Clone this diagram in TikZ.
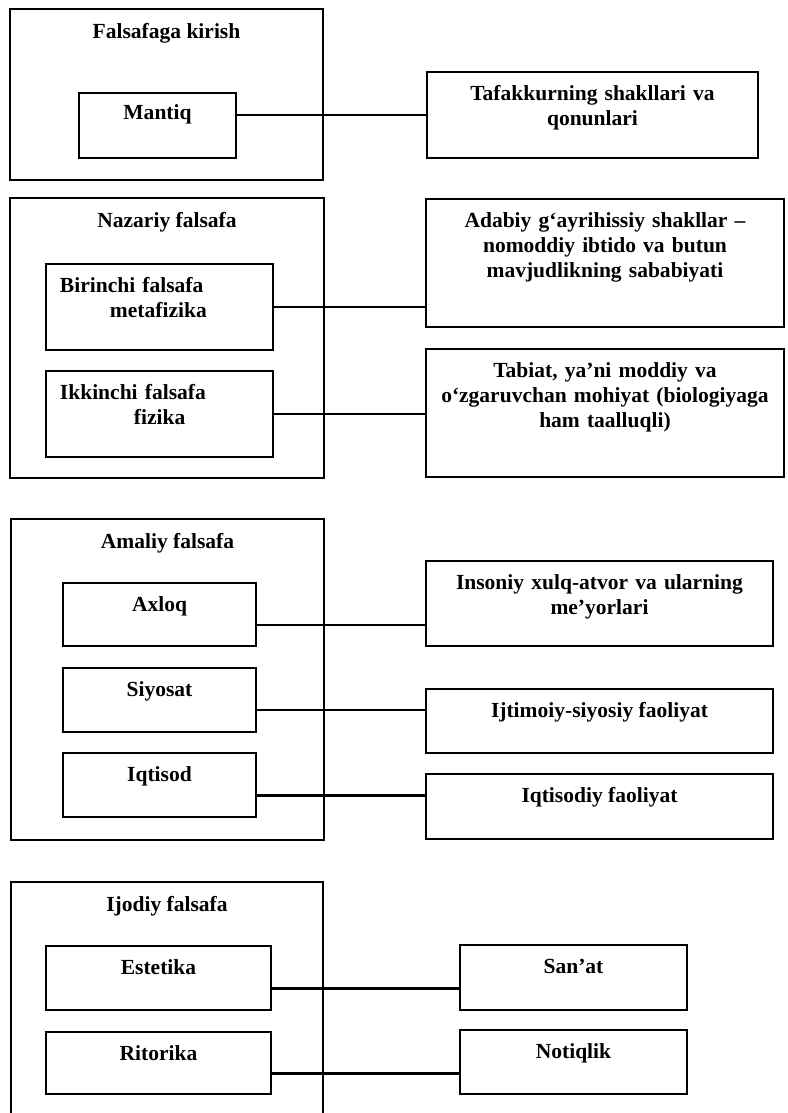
\documentclass[tikz,border=0pt]{standalone}
\usepackage{fontspec}
\setmainfont{Liberation Serif}

\begin{document}
\begin{tikzpicture}[x=0.025cm, y=-0.025cm,
  group/.style={draw, line width=1.5pt, inner sep=0pt},
  inbox/.style={draw, line width=1.1pt, inner sep=0pt},
  txt/.style={font=\fontsize{15.3}{17.8}\selectfont\bfseries, align=center, anchor=base, inner sep=0pt},
  lbl/.style={txt, yshift=-0.74cm},
  hd/.style={txt, yshift=-0.775cm},
  link/.style={line width=2pt}]

\clip (0,0) rectangle (788,1113);

% Falsafaga kirish
\node[group, minimum width=7.825cm, minimum height=4.275cm, label={[hd]north:Falsafaga kirish}] (kirish) at (166.5,94.5) {};
\node[inbox, minimum width=3.925cm, minimum height=1.625cm, label={[lbl, yshift=0.07cm]north:Mantiq}] (mantiq) at (157.5,125.5) {};
\node[inbox, minimum width=8.275cm, minimum height=2.15cm, label={[lbl, text width=8cm]north:{Tafakkurning shakllari va\\qonunlari}}] (tafakkur) at (592.5,115) {};
\draw[link] (mantiq.east |- tafakkur.west) -- (tafakkur.west);

% Nazariy falsafa
\node[group, minimum width=7.85cm, minimum height=7cm, label={[hd]north:Nazariy falsafa}] (nazariy) at (167,338) {};
\node[inbox, minimum width=5.675cm, minimum height=2.15cm, label={[lbl, align=left, text width=4.975cm]north:{Birinchi falsafa\\\hspace*{1.25cm}metafizika}}] (birinchi) at (159.5,307) {};
\node[inbox, minimum width=5.675cm, minimum height=2.15cm, label={[lbl, align=left, text width=4.975cm]north:{Ikkinchi falsafa\\\hspace*{1.85cm}fizika}}] (ikkinchi) at (159.5,414) {};
\node[inbox, minimum width=8.95cm, minimum height=3.2cm, label={[lbl, text width=8.7cm]north:{Adabiy g‘ayrihissiy shakllar --\\nomoddiy ibtido va butun\\mavjudlikning sababiyati}}] (adabiy) at (605,263) {};
\node[inbox, minimum width=8.95cm, minimum height=3.2cm, label={[lbl, text width=8.7cm]north:{Tabiat, ya’ni moddiy va\\o‘zgaruvchan mohiyat (biologiyaga\\ham taalluqli)}}] (tabiat) at (605,413) {};
\draw[link] (birinchi.east) -- (birinchi.east -| adabiy.west);
\draw[link] (ikkinchi.east) -- (ikkinchi.east -| tabiat.west);

% Amaliy falsafa
\node[group, minimum width=7.825cm, minimum height=8.025cm, label={[hd]north:Amaliy falsafa}] (amaliy) at (167.5,679.5) {};
\node[inbox, minimum width=4.825cm, minimum height=1.575cm, label={[lbl]north:Axloq}] (axloq) at (159.5,614.5) {};
\node[inbox, minimum width=4.825cm, minimum height=1.6cm, label={[lbl]north:Siyosat}] (siyosat) at (159.5,700) {};
\node[inbox, minimum width=4.825cm, minimum height=1.6cm, label={[lbl]north:Iqtisod}] (iqtisod) at (159.5,785) {};
\node[inbox, minimum width=8.675cm, minimum height=2.125cm, label={[lbl, text width=8.4cm]north:{Insoniy xulq-atvor va ularning\\me’yorlari}}] (xulq) at (599.5,603.5) {};
\node[inbox, minimum width=8.675cm, minimum height=1.6cm, label={[lbl]north:Ijtimoiy-siyosiy faoliyat}] (ijtimoiy) at (599.5,721) {};
\node[inbox, minimum width=8.675cm, minimum height=1.625cm, label={[lbl]north:Iqtisodiy faoliyat}] (faoliyat) at (599.5,806.5) {};
\coordinate (r1) at ([yshift=-0.26cm]axloq.east);
\coordinate (r2) at ([yshift=-0.25cm]siyosat.east);
\coordinate (r3) at ([yshift=-0.27cm]iqtisod.east);
\draw[link] (r1) -- (r1 -| xulq.west);
\draw[link] (r2) -- (r2 -| ijtimoiy.west);
\draw[link] (r3) -- (r3 -| faoliyat.west);

% Ijodiy falsafa (pastki cheti kesilgan)
\node[group, minimum width=7.8cm, minimum height=6.2cm, label={[hd]north:Ijodiy falsafa}] (ijodiy) at (167,1006) {};
\node[inbox, minimum width=5.625cm, minimum height=1.6cm, label={[lbl]north:Estetika}] (estetika) at (158.5,978) {};
\node[inbox, minimum width=5.625cm, minimum height=1.55cm, label={[lbl]north:Ritorika}] (ritorika) at (158.5,1063) {};
\node[inbox, minimum width=5.675cm, minimum height=1.625cm, label={[lbl]north:San’at}] (sanat) at (573.5,977.5) {};
\node[inbox, minimum width=5.675cm, minimum height=1.6cm, label={[lbl]north:Notiqlik}] (notiqlik) at (573.5,1062) {};
\coordinate (r4) at ([yshift=-0.27cm]estetika.east);
\coordinate (r5) at ([yshift=-0.27cm]ritorika.east);
\draw[link] (r4) -- (r4 -| sanat.west);
\draw[link] (r5) -- (r5 -| notiqlik.west);

\end{tikzpicture}
\end{document}
